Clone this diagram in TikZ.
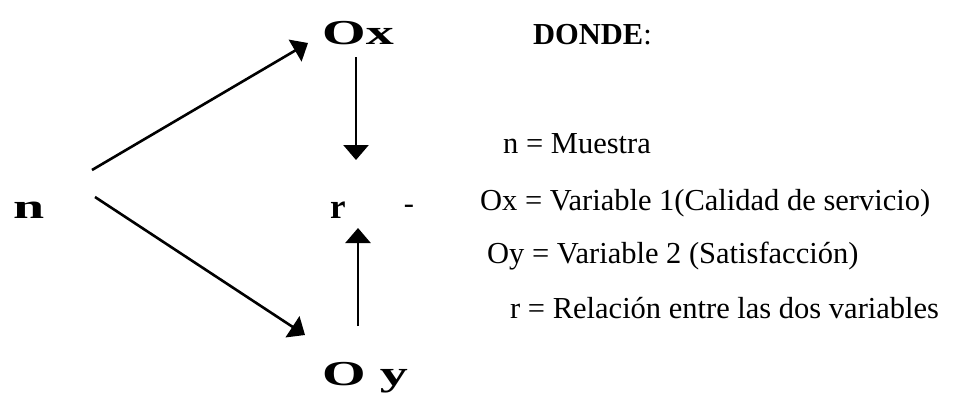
\documentclass[tikz,border=0pt]{standalone}
\usepackage{fontspec}
\setmainfont{Liberation Serif}
\usetikzlibrary{arrows.meta}

\begin{document}
\begin{tikzpicture}[x=1pt, y=-1pt,
  big/.style={font=\fontsize{35}{40}\selectfont\bfseries, inner sep=0pt, anchor=base west},
  item/.style={font=\fontsize{30.5}{36}\selectfont, inner sep=0pt, anchor=base west},
  arrow/.style={-{Triangle[length=15pt,width=25pt]}, line width=2.6pt}
]
\clip (0,0) rectangle (967,400);
\fill[white] (0,0) rectangle (967,400);
\node[big] (n) at (13,218) {\scalebox{1.6}[1]{n}};
\node[big] (ox) at (322,44) {\scalebox{1.6}[1]{Ox}};
\node[big] (r) at (330,218) {r};
\node[item, anchor=center] (dash) at (409,209) {-};
\node[big] (oy) at (322,385) {\scalebox{1.6}[1]{O y}};
\node[item] (donde) at (533,44) {\textbf{DONDE}:};
\node[item] (defn) at (503,153) {n = Muestra};
\node[item] (defox) at (480,210) {Ox = Variable 1(Calidad de servicio)};
\node[item] (defoy) at (487,263) {Oy = Variable 2 (Satisfacción)};
\node[item] (defr) at (510,318) {r = Relación entre las dos variables};
\draw[arrow] ([shift={(79,-48)}]n.base west) -- ([shift={(-14,-1)}]ox.base west);
\draw[arrow] ([shift={(82,-21)}]n.base west) -- ([shift={(-17,-50)}]oy.base west);
\draw[arrow] ([shift={(34,13)}]ox.base west) -- ([shift={(26,-58)}]r.base west);
\draw[arrow] ([shift={(36,-59)}]oy.base west) -- ([shift={(28,10)}]r.base west);
\end{tikzpicture}
\end{document}
